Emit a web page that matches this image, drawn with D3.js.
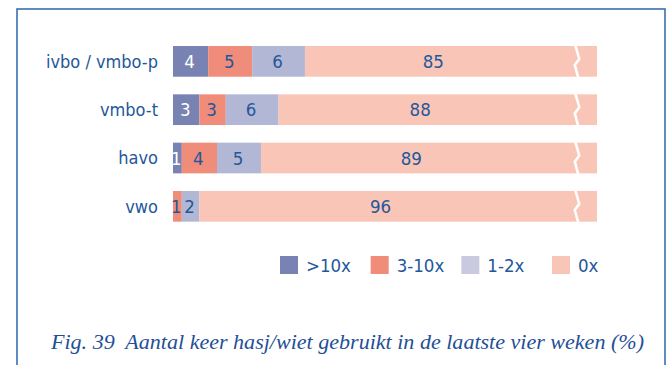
<!DOCTYPE html>
<html>
<head>
<meta charset="utf-8">
<script src="https://cdn.jsdelivr.net/npm/d3@7"></script>
<style>
  html, body { margin: 0; padding: 0; background: #fff; }
  svg { display: block; }
</style>
</head>
<body>
<svg id="chart" width="667" height="365"></svg>
<script>
// Schooltypes (rows) and the share of pupils per frequency of use (%)
const categories = ["ivbo / vmbo-p", "vmbo-t", "havo", "vwo"];
const seriesNames = [">10x", "3-10x", "1-2x", "0x"];
const over10 = [4, 3, 1, 0];
const from3to10 = [5, 3, 4, 1];
const from1to2 = [6, 6, 5, 2];
const never = [85, 88, 89, 96];
const seriesColors = ["#7882b3", "#f08c7a", "#b2b7d5", "#f8c5b7"];
const legendColors = ["#7882b3", "#f08c7a", "#c9cae0", "#f8c5b7"];
const captionText = "Fig. 39  Aantal keer hasj/wiet gebruikt in de laatste vier weken (%)";

const seriesValues = [over10, from3to10, from1to2, never];
const textBlue = "#24579a";
const labelFont = "'Liberation Sans Narrow', 'DejaVu Sans Condensed', 'Roboto Condensed', sans-serif";

const svg = d3.select("#chart");

// Frame around the figure
svg.append("rect")
  .attr("x", 17).attr("y", 9)
  .attr("width", 648).attr("height", 380)
  .attr("fill", "none")
  .attr("stroke", "#3a6fb2")
  .attr("stroke-width", 1.6);

// Broken horizontal axis: the last segment is cut off at the end of the range
const xMax = 48.2;
const x = d3.scaleLinear().domain([0, xMax]).range([173, 597]);
const breakAt = 45.9;

const y = d3.scaleBand()
  .domain(categories)
  .range([37.2, 230.5])
  .paddingInner(0.365)
  .paddingOuter(0.1825);

// Stack the series per row
const rows = categories.map((c, i) => {
  let acc = 0;
  const segs = seriesValues.map((vals, s) => {
    const v = vals[i];
    const seg = { cat: c, series: s, value: v, x0: acc, x1: acc + v };
    acc += v;
    return seg;
  });
  return { cat: c, segs };
});

const bars = svg.append("g");
rows.forEach(row => {
  const g = bars.append("g");
  g.selectAll("rect")
    .data(row.segs.filter(d => d.value > 0))
    .join("rect")
    .attr("x", d => x(d.x0))
    .attr("y", y(row.cat))
    .attr("width", d => x(Math.min(d.x1, xMax)) - x(d.x0))
    .attr("height", y.bandwidth())
    .attr("fill", d => seriesColors[d.series]);

  // zigzag break across the bar
  const top = y(row.cat), h = y.bandwidth(), bx = x(breakAt);
  g.append("path")
    .attr("d", d3.line()([
      [bx - 1.5, top - 1],
      [bx + 2.5, top + h * 0.42],
      [bx - 2, top + h * 0.62],
      [bx + 1.5, top + h + 1]
    ]))
    .attr("fill", "none")
    .attr("stroke", "#fff")
    .attr("stroke-width", 2.6);

  // value labels; the cut-off segment is labelled in its visible part
  g.selectAll("text")
    .data(row.segs.filter(d => d.value > 0))
    .join("text")
    .attr("x", d => {
      const end = d.x1 > xMax ? x(breakAt) - 13 : x(d.x1);
      return (x(d.x0) + end) / 2 - 1;
    })
    .attr("y", top + h / 2)
    .attr("dy", "0.36em")
    .attr("text-anchor", "middle")
    .attr("font-family", labelFont)
    .attr("font-size", 18.5)
    .attr("fill", d => d.series === 0 ? "#ffffff" : textBlue)
    .text(d => d.value);
});

// Category labels
svg.append("g")
  .selectAll("text")
  .data(categories)
  .join("text")
  .attr("x", 158)
  .attr("y", d => y(d) + y.bandwidth() / 2)
  .attr("dy", "0.36em")
  .attr("text-anchor", "end")
  .attr("font-family", labelFont)
  .attr("font-size", 18)
  .attr("fill", textBlue)
  .text(d => d);

// Legend
const legendX = d3.scalePoint().domain(seriesNames).range([280, 552]);
const legend = svg.append("g")
  .selectAll("g")
  .data(seriesNames)
  .join("g")
  .attr("transform", d => `translate(${legendX(d)},256)`);
legend.append("rect")
  .attr("width", 18).attr("height", 18)
  .attr("fill", (d, i) => legendColors[i]);
legend.append("text")
  .attr("x", 26).attr("y", 9)
  .attr("dy", "0.36em")
  .attr("font-family", labelFont)
  .attr("font-size", 18.5)
  .attr("fill", textBlue)
  .text(d => d);

// Caption (keeps the double space after the figure number)
svg.append("text")
  .attr("x", 51).attr("y", 349)
  .attr("font-family", "'Liberation Serif', 'DejaVu Serif', serif")
  .attr("font-style", "italic")
  .attr("font-size", 20)
  .attr("fill", "#1f5096")
  .style("white-space", "pre")
  .attr("textLength", 593)
  .attr("lengthAdjust", "spacingAndGlyphs")
  .text(captionText);
</script>
</body>
</html>
